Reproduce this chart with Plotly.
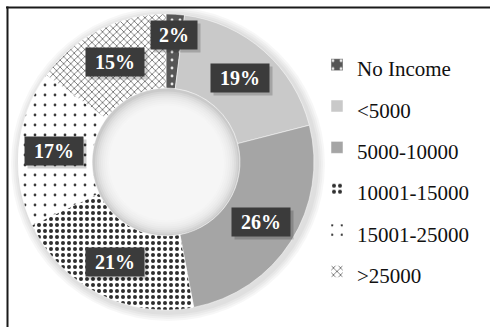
import math
import plotly.graph_objects as go

categories = ["No Income", "<5000", "5000-10000", "10001-15000", "15001-25000", ">25000"]
shares = [2, 19, 26, 21, 17, 15]
pct_labels = ["2%", "19%", "26%", "21%", "17%", "15%"]

bg_colors = ["#565656", "#c9c9c9", "#a5a5a5", "#ffffff", "#ffffff", "#ffffff"]
fg_colors = ["#e8e8e8", "#c9c9c9", "#a5a5a5", "#2e2e2e", "#3a3a3a", "#6a6a6a"]
shapes_pat = [".", "", "", ".", ".", "x"]
pat_sizes = [8, 8, 8, 6, 10, 5]
pat_solid = [0.1, 0.3, 0.3, 0.35, 0.06, 0.3]

W, H = 490, 327
CX, CY, R = 166, 162, 148   # pixel centre and radius of donut
HOLE = 0.5
SERIF = "Liberation Serif"

legend_labels = [f"<span style='font-size:21px'>{c}</span>" for c in categories]

fig = go.Figure()
fig.add_trace(go.Pie(
    labels=legend_labels,
    values=shares,
    hole=HOLE,
    sort=False,
    direction="clockwise",
    rotation=0,
    textinfo="none",
    hoverinfo="label+percent",
    marker=dict(
        colors=bg_colors,
        line=dict(color="white", width=0.5),
        pattern=dict(shape=shapes_pat, fgcolor=fg_colors, bgcolor=bg_colors,
                     size=pat_sizes, solidity=pat_solid, fillmode="replace"),
    ),
    domain=dict(x=[(CX - R) / W, (CX + R) / W], y=[1 - (CY + R) / H, 1 - (CY - R) / H]),
    showlegend=True,
))


def circ(cx, cy, r, fill, layer="above"):
    return dict(type="circle", xref="paper", yref="paper",
                x0=(cx - r) / W, x1=(cx + r) / W, y0=1 - (cy + r) / H, y1=1 - (cy - r) / H,
                fillcolor=fill, line=dict(width=0), layer=layer)


shapes = [
    dict(type="line", xref="paper", yref="paper", x0=6 / W, x1=1.05, y0=1 - 7.5 / H, y1=1 - 7.5 / H,
         line=dict(color="#1a1a1a", width=2)),
    dict(type="line", xref="paper", yref="paper", x0=7.5 / W, x1=7.5 / W, y0=-0.05, y1=1 - 6.5 / H,
         line=dict(color="#1a1a1a", width=2)),
]
# soft outer shadow behind donut
for dr in (9, 7, 5, 3):
    shapes.append(circ(CX + 2, CY + 2, R + dr, "rgba(0,0,0,0.03)", layer="below"))
# inner shadow of the hole
rh = R * HOLE - 0.5
shapes.append(circ(CX, CY, rh, "rgba(0,0,0,0.09)"))
for k in range(1, 9):
    shapes.append(circ(CX + 0.5, CY + 1, rh - 2 * k, "rgba(255,255,255,0.22)"))

# percentage label boxes placed at slice mid-angles
annotations = []
total = sum(shares)
cum = 0
for v, t in zip(shares, pct_labels):
    mid = (cum + v / 2) / total * 2 * math.pi
    cum += v
    r = 127 if v / total < 0.05 else 112
    px = CX + r * math.sin(mid)
    py = CY - r * math.cos(mid)
    w = 46 if len(t) == 2 else 58
    annotations.append(dict(x=(px + 3) / W, y=1 - (py + 3) / H, xref="paper", yref="paper",
                            xanchor="center", yanchor="middle",
                            text=" ", showarrow=False, width=w, height=28,
                            bgcolor="rgba(0,0,0,0.18)", borderpad=0))
    annotations.append(dict(x=px / W, y=1 - py / H, xref="paper", yref="paper",
                            xanchor="center", yanchor="middle",
                            text=f"<b>{t}</b>", showarrow=False, width=w, height=28,
                            bgcolor="#3b3b3b", borderpad=0,
                            font=dict(family=SERIF, size=20, color="white")))

fig.update_layout(
    width=W, height=H,
    margin=dict(l=0, r=0, t=0, b=0),
    font=dict(family=SERIF, color="#111111"),
    paper_bgcolor="white",
    plot_bgcolor="white",
    annotations=annotations,
    legend=dict(x=(357 - 40) / W, xanchor="left", y=1 - 39 / H, yanchor="top",
                font=dict(family=SERIF, size=29.5, color="#111111"),
                bgcolor="rgba(0,0,0,0)"),
    shapes=shapes,
)

fig.write_html("out.html")
